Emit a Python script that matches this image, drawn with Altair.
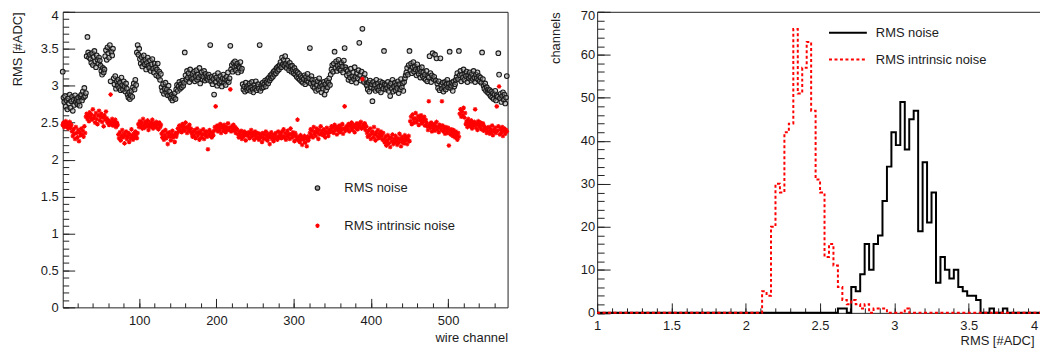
import altair as alt
import pandas as pd

alt.data_transformers.disable_max_rows()

# ---------------- data ----------------
series_names = ["RMS noise", "RMS intrinsic noise"]

noise_rms = [
    3.19, 2.84, 2.78, 2.86, 2.72, 2.80, 2.68, 2.83, 2.76, 2.88, 2.70, 2.79, 2.85, 2.66, 2.81, 2.74, 2.87, 2.78, 2.82, 2.75, 2.84, 2.79, 2.73, 2.86,
    2.88, 2.80, 2.92, 2.84, 2.97, 2.86, 2.90, 3.40, 3.66, 3.45, 3.38, 3.42, 3.36, 3.31, 3.44, 3.28, 3.39, 3.47, 3.33, 3.25, 3.41, 3.35, 3.30, 3.38,
    3.34, 3.27, 3.20, 3.15, 3.24, 3.18, 3.22, 3.40, 3.48, 3.35, 3.52, 3.44, 3.38, 3.55, 3.06, 3.46, 3.41, 3.50, 3.10, 3.02, 3.13, 2.96, 3.06, 3.00,
    3.08, 2.97, 3.04, 2.94, 3.11, 3.01, 2.95, 3.06, 2.99, 2.92, 3.03, 2.96, 2.88, 2.84, 2.91, 2.82, 2.87, 2.93, 2.85, 2.98, 3.03, 2.95, 3.08, 3.01,
    3.45, 3.55, 3.42, 3.50, 3.36, 3.30, 3.39, 3.26, 3.33, 3.41, 3.29, 3.35, 3.22, 3.31, 3.38, 3.27, 3.24, 3.34, 3.20, 3.29, 3.36, 3.23, 3.18, 3.30,
    3.25, 3.14, 3.22, 3.30, 3.12, 3.19, 3.08, 3.16, 2.98, 2.93, 3.02, 2.89, 2.96, 3.04, 2.91, 2.95, 2.87, 3.00, 2.92, 2.86, 2.83, 2.88, 2.80, 2.86,
    2.84, 2.90, 2.82, 2.95, 3.01, 2.93, 2.99, 3.05, 2.96, 3.02, 2.98, 3.07, 3.00, 3.04, 3.45, 3.14, 3.08, 3.20, 3.11, 3.17, 3.05, 3.22, 3.12, 3.09,
    3.16, 3.10, 3.19, 3.06, 3.13, 3.21, 3.08, 3.15, 3.11, 3.24, 3.03, 3.14, 3.18, 3.09, 3.12, 3.20, 3.07, 3.16, 3.10, 3.13, 3.08, 3.15, 3.11, 3.55,
    3.06, 3.12, 3.02, 3.09, 2.88, 3.14, 3.05, 3.11, 3.00, 3.17, 3.08, 3.03, 3.13, 3.06, 2.99, 3.10, 3.15, 3.04, 3.09, 3.01, 3.12, 3.07, 3.18, 3.05,
    3.10, 3.54, 3.22, 3.28, 3.19, 3.31, 3.25, 3.33, 3.21, 3.27, 3.30, 3.18, 3.26, 3.24, 3.32, 3.20, 3.23, 3.02, 2.95, 2.99, 2.92, 3.04, 2.97, 2.94,
    3.00, 2.96, 3.03, 2.93, 2.98, 3.05, 2.95, 2.91, 3.01, 2.97, 3.06, 2.94, 2.99, 3.02, 2.96, 3.55, 2.93, 3.00, 2.97, 3.04, 2.98, 3.02, 3.07, 2.99,
    3.05, 3.09, 3.03, 3.11, 3.07, 3.14, 3.10, 3.16, 3.12, 3.19, 3.15, 3.21, 3.17, 3.24, 3.20, 3.26, 3.22, 3.28, 3.32, 3.25, 3.38, 3.29, 3.35, 3.27,
    3.40, 3.30, 3.24, 3.34, 3.28, 3.21, 3.31, 3.26, 3.19, 3.27, 3.22, 3.17, 3.24, 3.15, 3.20, 3.12, 3.18, 3.10, 3.16, 3.08, 3.13, 3.06, 3.11, 3.04,
    3.09, 3.14, 3.02, 3.12, 3.07, 3.16, 3.05, 3.10, 3.51, 3.03, 3.13, 3.08, 2.99, 3.04, 2.97, 3.08, 2.93, 3.01, 3.06, 2.95, 3.10, 2.99, 3.03, 2.91,
    3.00, 2.96, 3.05, 2.88, 3.02, 2.94, 3.07, 2.98, 3.04, 3.10, 3.01, 3.15, 3.22, 3.28, 3.19, 3.30, 3.46, 3.24, 3.33, 3.20, 3.27, 3.35, 3.23, 3.29,
    3.21, 3.31, 3.26, 3.18, 3.34, 3.51, 3.25, 3.22, 3.14, 3.20, 3.08, 3.16, 3.11, 3.23, 3.06, 3.13, 3.18, 3.09, 3.25, 3.12, 3.04, 3.17, 3.10, 3.21,
    3.58, 3.14, 3.07, 3.19, 3.77, 3.11, 3.05, 3.16, 3.09, 3.02, 3.00, 2.95, 3.04, 2.92, 3.07, 2.98, 3.02, 2.79, 3.05, 2.96, 3.01, 2.93, 3.08, 2.97,
    3.03, 2.94, 2.99, 3.06, 2.91, 3.00, 3.04, 2.96, 3.47, 3.02, 2.95, 3.01, 2.97, 3.05, 2.93, 3.00, 2.86, 3.03, 2.96, 3.08, 2.92, 2.99, 3.04, 2.94,
    3.01, 2.97, 3.06, 2.90, 3.02, 2.95, 3.09, 2.98, 3.03, 2.93, 3.05, 3.10, 3.14, 3.18, 3.24, 3.15, 3.28, 3.47, 3.21, 3.30, 3.17, 3.25, 3.32, 3.19,
    3.26, 3.22, 3.14, 3.29, 3.20, 3.16, 3.23, 3.11, 3.19, 3.25, 3.13, 3.18, 3.10, 3.15, 3.08, 3.20, 3.06, 3.13, 3.11, 3.40, 3.17, 3.05, 3.14, 3.44,
    3.09, 3.12, 3.42, 3.07, 3.37, 3.03, 2.97, 3.06, 2.94, 3.37, 3.01, 2.96, 3.04, 2.92, 2.99, 3.05, 2.95, 3.02, 3.08, 2.98, 3.03, 3.46, 2.97, 3.00,
    3.04, 2.93, 3.06, 2.99, 3.02, 3.08, 3.12, 3.17, 3.09, 3.47, 3.14, 3.20, 3.06, 3.15, 3.11, 3.22, 3.08, 3.16, 3.13, 3.19, 3.05, 3.14, 3.10, 3.18,
    3.12, 3.07, 3.16, 3.09, 3.20, 3.11, 3.05, 3.15, 3.10, 3.18, 3.08, 3.13, 3.06, 3.11, 3.04, 3.45, 3.09, 3.00, 2.96, 3.03, 2.93, 2.98, 2.91, 2.95,
    2.89, 2.94, 2.86, 2.92, 2.84, 2.90, 2.82, 2.88, 2.93, 2.80, 2.87, 2.85, 3.44, 3.15, 2.83, 2.89, 2.78, 2.86, 2.91, 2.81, 2.88, 2.76, 2.84, 3.13,
]

intrinsic_rms = [
    2.47, 2.50, 2.44, 2.48, 2.52, 2.45, 2.49, 2.42, 2.46, 2.51, 2.43, 2.47, 2.38, 2.32, 2.41, 2.35, 2.28, 2.44, 2.36, 2.30, 2.40, 2.25, 2.37, 2.33,
    2.42, 2.34, 2.39, 2.31, 2.45, 2.36, 2.58, 2.62, 2.55, 2.60, 2.52, 2.64, 2.57, 2.61, 2.54, 2.68, 2.56, 2.59, 2.50, 2.63, 2.55, 2.48, 2.60, 2.66,
    2.53, 2.58, 2.62, 2.51, 2.57, 2.45, 2.60, 2.54, 2.65, 2.56, 2.50, 2.53, 2.47, 2.52, 2.88, 2.49, 2.55, 2.46, 2.51, 2.48, 2.54, 2.44, 2.50, 2.47,
    2.34, 2.29, 2.37, 2.26, 2.32, 2.40, 2.30, 2.35, 2.22, 2.33, 2.38, 2.28, 2.31, 2.36, 2.24, 2.34, 2.29, 2.41, 2.32, 2.27, 2.35, 2.30, 2.38, 2.33,
    2.29, 2.36, 2.48, 2.44, 2.52, 2.46, 2.50, 2.42, 2.55, 2.47, 2.43, 2.51, 2.49, 2.45, 2.53, 2.40, 2.48, 2.44, 2.50, 2.46, 2.54, 2.42, 2.49, 2.47,
    2.45, 2.51, 2.43, 2.48, 2.41, 2.50, 2.44, 2.47, 2.35, 2.30, 2.38, 2.27, 2.33, 2.40, 2.29, 2.36, 2.21, 2.32, 2.37, 2.31, 2.26, 2.34, 2.39, 2.30,
    2.33, 2.24, 2.36, 2.31, 2.35, 2.42, 2.38, 2.46, 2.40, 2.44, 2.37, 2.48, 2.41, 2.45, 2.39, 2.50, 2.43, 2.36, 2.44, 2.40, 2.47, 2.38, 2.42, 2.35,
    2.31, 2.38, 2.33, 2.40, 2.29, 2.36, 2.42, 2.32, 2.37, 2.27, 2.35, 2.39, 2.30, 2.34, 2.41, 2.28, 2.36, 2.33, 2.38, 2.31, 2.14, 2.35, 2.40, 2.32,
    2.37, 2.30, 2.36, 2.33, 2.39, 2.44, 2.72, 2.41, 2.46, 2.38, 2.44, 2.40, 2.48, 2.36, 2.43, 2.45, 2.39, 2.47, 2.42, 2.37, 2.44, 2.41, 2.49, 2.40,
    2.43, 2.95, 2.38, 2.45, 2.41, 2.47, 2.39, 2.44, 2.36, 2.42, 2.40, 2.34, 2.30, 2.37, 2.32, 2.39, 2.28, 2.35, 2.31, 2.38, 2.33, 2.26, 2.36, 2.34,
    2.32, 2.37, 2.29, 2.35, 2.40, 2.31, 2.36, 2.33, 2.27, 2.38, 2.34, 2.30, 2.36, 2.31, 2.27, 2.35, 2.30, 2.33, 2.24, 2.36, 2.29, 2.34, 2.28, 2.38,
    2.32, 2.26, 2.35, 2.30, 2.21, 2.33, 2.37, 2.28, 2.31, 2.25, 2.34, 2.29, 2.36, 2.31, 2.27, 2.38, 2.30, 2.33, 2.35, 2.29, 2.38, 2.32, 2.41, 2.30,
    2.36, 2.27, 2.33, 2.39, 2.31, 2.35, 2.28, 2.42, 2.34, 2.30, 2.37, 2.32, 2.25, 2.36, 2.33, 2.29, 2.54, 2.26, 2.31, 2.24, 2.33, 2.28, 2.20, 2.30,
    2.27, 2.32, 2.23, 2.29, 2.18, 2.31, 2.26, 2.30, 2.36, 2.41, 2.33, 2.39, 2.30, 2.44, 2.35, 2.38, 2.32, 2.42, 2.37, 2.28, 2.40, 2.34, 2.45, 2.36,
    2.39, 2.33, 2.41, 2.35, 2.30, 2.38, 2.43, 2.36, 2.32, 2.40, 2.37, 2.41, 2.45, 2.38, 2.43, 2.36, 2.47, 2.40, 2.44, 2.34, 2.42, 2.39, 2.46, 2.37,
    2.43, 2.40, 2.48, 2.35, 2.42, 2.72, 2.39, 2.44, 2.45, 2.41, 2.48, 2.38, 2.46, 2.43, 2.50, 2.40, 2.44, 2.47, 2.37, 2.45, 2.42, 2.49, 2.41, 2.46,
    2.48, 2.44, 2.51, 2.42, 3.09, 2.47, 2.43, 2.49, 2.40, 2.45, 2.36, 2.31, 2.39, 2.33, 2.42, 2.28, 2.35, 2.38, 2.30, 2.44, 2.34, 2.26, 2.37, 2.32,
    2.40, 2.29, 2.35, 2.31, 2.38, 2.33, 2.27, 2.36, 2.28, 2.23, 2.31, 2.19, 2.26, 2.33, 2.22, 2.29, 2.17, 2.30, 2.25, 2.34, 2.21, 2.28, 2.24, 2.32,
    2.26, 2.20, 2.29, 2.23, 2.35, 2.27, 2.18, 2.31, 2.24, 2.28, 2.22, 2.33, 2.26, 2.30, 2.21, 2.27, 2.32, 2.25, 2.52, 2.58, 2.48, 2.61, 2.55, 2.50,
    2.56, 2.63, 2.51, 2.54, 2.59, 2.47, 2.57, 2.53, 2.60, 2.49, 2.55, 2.52, 2.58, 2.46, 2.54, 2.50, 2.45, 2.40, 2.79, 2.47, 2.43, 2.50, 2.38, 2.46,
    2.42, 2.48, 2.39, 2.45, 2.51, 2.41, 2.44, 2.37, 2.47, 2.43, 2.40, 2.79, 2.46, 2.38, 2.42, 2.35, 2.44, 2.40, 2.36, 2.43, 2.19, 2.39, 2.34, 2.41,
    2.37, 2.32, 2.40, 2.35, 2.30, 2.38, 2.33, 2.27, 2.36, 2.31, 2.62, 2.68, 2.58, 2.65, 2.60, 2.70, 2.57, 2.63, 2.48, 2.52, 2.44, 2.55, 2.47, 2.50,
    2.45, 2.53, 2.42, 2.49, 2.46, 2.51, 2.68, 2.43, 2.48, 2.40, 2.52, 2.47, 2.44, 2.50, 2.41, 2.46, 2.49, 2.39, 2.45, 2.42, 2.40, 2.36, 2.43, 2.38,
    2.44, 2.35, 2.41, 2.37, 2.46, 2.33, 2.40, 2.38, 2.43, 2.36, 2.72, 2.39, 2.45, 2.99, 2.34, 2.41, 2.37, 2.44, 2.32, 2.39, 2.42, 2.35, 2.40, 2.38,
]

# histogram: 100 bins of width 0.03 from 1 to 4
hist_lo, hist_hi, hist_nbins = 1.0, 4.0, 100
hist_noise = [
    0, 0, 0, 0, 0, 0, 0, 0, 0, 0,
    0, 0, 0, 0, 0, 0, 0, 0, 0, 0,
    0, 0, 0, 0, 0, 0, 0, 0, 0, 0,
    0, 0, 0, 0, 0, 0, 0, 0, 0, 0,
    0, 0, 0, 0, 0, 0, 0, 0, 0, 0,
    0, 0, 0, 0, 1, 1, 0, 6, 5, 9,
    16, 10, 16, 18, 26, 34, 42, 39, 49, 38,
    45, 47, 19, 35, 21, 28, 7, 13, 10, 8,
    10, 6, 5, 4, 4, 3, 0, 0, 1, 0,
    0, 1, 0, 0, 0, 0, 0, 0, 0, 0,
]
hist_intrinsic = [
    0, 0, 0, 0, 0, 0, 0, 0, 0, 0,
    0, 0, 0, 0, 0, 0, 0, 0, 0, 0,
    0, 0, 0, 0, 0, 0, 0, 0, 0, 0,
    0, 0, 0, 0, 0, 0, 0, 5, 4, 20,
    30, 28, 42, 44, 66, 51, 57, 63, 47, 31,
    28, 13, 16, 11, 6, 3, 2, 3, 2, 1,
    2, 0, 1, 1, 1, 0, 0, 0, 0, 1,
    0, 0, 0, 0, 0, 0, 0, 0, 0, 0,
    0, 0, 0, 0, 0, 0, 0, 0, 0, 0,
    0, 0, 0, 0, 0, 0, 0, 0, 0, 0,
]

# axis tick values
left_x_major = [100, 200, 300, 400, 500]
left_x_minor = [v for v in range(20, 577, 20)]
left_y_major = [0, 0.5, 1, 1.5, 2, 2.5, 3, 3.5, 4]
left_y_minor = [round(0.1 * i, 1) for i in range(0, 41)]
right_x_major = [1, 1.5, 2, 2.5, 3, 3.5, 4]
right_x_minor = [round(1 + 0.1 * i, 1) for i in range(0, 31)]
right_y_major = [0, 10, 20, 30, 40, 50, 60, 70]
right_y_minor = [v for v in range(0, 71, 2)]

# ---------------- tables ----------------
rows = []
for i, v in enumerate(noise_rms):
    rows.append({"ch": i + 1, "rms": v, "series": series_names[0]})
for i, v in enumerate(intrinsic_rms):
    rows.append({"ch": i + 1, "rms": v, "series": series_names[1]})
df_sc = pd.DataFrame(rows)

bw = (hist_hi - hist_lo) / hist_nbins


def hist_table(counts, name):
    out = [{"x": round(hist_lo + k * bw, 4), "n": c, "hs": name} for k, c in enumerate(counts)]
    out.append({"x": hist_hi, "n": counts[-1], "hs": name})
    return pd.DataFrame(out)


df_hn = hist_table(hist_noise, series_names[0])
df_hi = hist_table(hist_intrinsic, series_names[1])

# ---------------- style ----------------
FONT = "Liberation Sans"
TXT = "#1c1c1c"
ASTER = "M-1,0L1,0M0,-1L0,1M-0.7,-0.7L0.7,0.7M-0.7,0.7L0.7,-0.7"

WL, HL = 447, 297
WR, HR = 448, 302.5


def major(orient, values, tick, pad, title=None, offset_cond=None, **kw):
    extra = {}
    if offset_cond is not None:
        val, off = offset_cond
        extra["labelOffset"] = {"condition": {"test": f"datum.value == {val}", "value": off}, "value": 0}
    return alt.Axis(orient=orient, values=values, tickSize=alt.ExprRef(str(-tick)),
                    labelPadding=pad, title=title, domain=False, grid=False,
                    labelExpr="'' + datum.value",
                    labelOverlap=False, labelFlush=False, **extra, **kw)


def minor(orient, values, tick):
    return alt.Axis(orient=orient, values=values, tickSize=alt.ExprRef(str(-tick)),
                    labels=False, title=None, domain=False, grid=False)


# ---------------- left: scatter ----------------
xs_l = alt.Scale(domain=[1, 577], nice=False, zero=False)
ys_l = alt.Scale(domain=[0, 4], nice=False, zero=True)

leg_l = alt.Legend(orient="none", legendX=249.5, legendY=170.5, title=None,
                   direction="vertical", padding=0, rowPadding=24, labelOffset=20.5,
                   symbolStrokeWidth=1.2, symbolSize=20)

pts = alt.Chart(df_sc).mark_point(filled=False, fill="#9a9a9a", fillOpacity=0.5,
                                  strokeWidth=1.1, size=22, opacity=1).encode(
    x=alt.X("ch:Q", scale=xs_l,
            axis=major("bottom", left_x_major, 9, 16, title="wire channel",
                       titleX=WL, titleY=34, titleAlign="right", titleBaseline="alphabetic", titleAngle=0)),
    y=alt.Y("rms:Q", scale=ys_l,
            axis=major("left", left_y_major, 12, 16.5, title="RMS [#ADC]", offset_cond=(4, 3.5),
                       titleX=-41, titleY=0, titleAlign="right", titleBaseline="alphabetic", titleAngle=270)),
    color=alt.Color("series:N", scale=alt.Scale(domain=series_names, range=["#1a1a1a", "#ff0000"]), legend=leg_l),
    shape=alt.Shape("series:N", scale=alt.Scale(domain=series_names, range=["circle", ASTER]), legend=leg_l),
)

minor_l = alt.Chart(df_sc).mark_point(opacity=0).encode(
    x=alt.X("ch:Q", scale=xs_l, axis=minor("bottom", left_x_minor, 4.5)),
    y=alt.Y("rms:Q", scale=ys_l, axis=minor("left", left_y_minor, 6)),
)

left = alt.layer(pts, minor_l).resolve_axis(x="independent", y="independent").properties(width=WL, height=HL)

# ---------------- right: histograms ----------------
xs_r = alt.Scale(domain=[1, 4], nice=False, zero=False)
ys_r = alt.Scale(domain=[0, 70], nice=False)

leg_r = alt.Legend(orient="none", legendX=232, legendY=1, title=None, direction="vertical",
                   padding=0, rowPadding=0, labelOffset=8, symbolType="stroke",
                   symbolSize=1444, symbolStrokeWidth=2)

col_r = alt.Color("hs:N", scale=alt.Scale(domain=series_names, range=["#000000", "#ff0000"]), legend=leg_r)
dash_r = alt.StrokeDash("hs:N", scale=alt.Scale(domain=series_names, range=[[1, 0], [3, 2.5]]), legend=leg_r)

line_n = alt.Chart(df_hn).mark_line(interpolate="step-after", strokeWidth=2).encode(
    x=alt.X("x:Q", scale=xs_r,
            axis=major("bottom", right_x_major, 10, 16.5, title="RMS [#ADC]", offset_cond=(4, -9),
                       titleX=WR - 9, titleY=31.5, titleAlign="right", titleBaseline="alphabetic", titleAngle=0)),
    y=alt.Y("n:Q", scale=ys_r,
            axis=major("left", right_y_major, 13, 15.5, title="channels", offset_cond=(70, 3.5),
                       titleX=-38, titleY=0, titleAlign="right", titleBaseline="alphabetic", titleAngle=270)),
    color=col_r, strokeDash=dash_r,
)

line_i = alt.Chart(df_hi).mark_line(interpolate="step-after", strokeWidth=2).encode(
    x=alt.X("x:Q", scale=xs_r, axis=minor("bottom", right_x_minor, 5)),
    y=alt.Y("n:Q", scale=ys_r, axis=minor("left", right_y_minor, 7)),
    color=col_r, strokeDash=dash_r,
)

right = alt.layer(line_n, line_i).resolve_axis(x="independent", y="independent").properties(width=WR, height=HR)

chart = alt.hconcat(left, right, spacing=36).resolve_scale(
    color="independent", shape="independent", strokeDash="independent"
).resolve_legend(color="independent", shape="independent", strokeDash="independent").properties(
    padding={"left": 3, "top": 0, "right": -8, "bottom": 0}
).configure_view(stroke="#222222", strokeWidth=1).configure_axis(
    labelFont=FONT, labelFontSize=13, labelColor=TXT, titleFont=FONT, titleFontSize=13,
    titleColor=TXT, titleFontWeight="normal", tickColor="#222222", tickWidth=1,
).configure_legend(labelFont=FONT, labelFontSize=13, labelColor=TXT)

chart.save("out.html", embed_options={"renderer": "svg", "actions": False})
